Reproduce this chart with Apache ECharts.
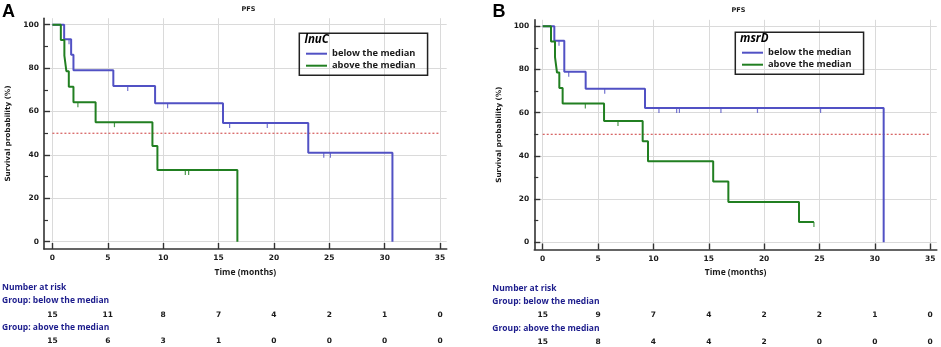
<!DOCTYPE html>
<html>
<head>
<meta charset="utf-8">
<script src="https://cdn.jsdelivr.net/npm/echarts@6/dist/echarts.min.js"></script>
<style>
html,body{margin:0;padding:0;background:#fff;}
#c{width:941px;height:347px;}
</style>
</head>
<body>
<div id="c"></div>
<script>
// ---- data ----
const xTicks = [0, 5, 10, 15, 20, 25, 30, 35];
const yTicks = [0, 20, 40, 60, 80, 100];
const yMinorTicks = [10, 30, 50, 70, 90];
const medianLevel = 50;

// Panel A (lnuC)
const aBelowT = [0, 1.06, 1.69, 1.9, 5.5, 9.27, 15.4, 23.1, 30.7];
const aBelowS = [100, 93.3, 86.2, 79.0, 71.8, 63.8, 54.7, 41.0, 0];
const aBelowCensT = [1.5, 6.8, 10.4, 16.0, 19.4, 24.5, 25.1];
const aBelowCensS = [93.3, 71.8, 63.8, 54.7, 54.7, 41.0, 41.0];
const aAboveT = [0, 0.76, 1.08, 1.26, 1.48, 1.9, 3.9, 9.03, 9.48, 16.7];
const aAboveS = [100, 92.9, 85.7, 78.6, 71.4, 64.3, 55.1, 44.1, 33.1, 0];
const aAboveCensT = [2.3, 5.6, 12.0, 12.3];
const aAboveCensS = [64.3, 55.1, 33.1, 33.1];
const aRiskBelow = [15, 11, 8, 7, 4, 2, 1, 0];
const aRiskAbove = [15, 6, 3, 1, 0, 0, 0, 0];

// Panel B (msrD)
const bBelowT = [0, 1.05, 1.95, 3.88, 9.24, 30.8];
const bBelowS = [100, 93.3, 79.0, 71.1, 62.2, 0];
const bBelowCensT = [1.47, 2.35, 5.6, 10.5, 12.1, 12.35, 16.1, 19.4, 25.1];
const bBelowCensS = [93.3, 79.0, 71.1, 62.2, 62.2, 62.2, 62.2, 62.2, 62.2];
const bAboveT = [0, 0.75, 1.11, 1.29, 1.5, 1.8, 5.54, 9.03, 9.51, 15.4, 16.77, 23.15, 24.5];
const bAboveS = [100, 92.9, 85.7, 78.6, 71.4, 64.3, 56.2, 46.8, 37.5, 28.1, 18.7, 9.4, 9.4];
const bAboveCensT = [3.85, 6.8, 24.5];
const bAboveCensS = [64.3, 56.2, 9.4];
const bRiskBelow = [15, 9, 7, 4, 2, 2, 1, 0];
const bRiskAbove = [15, 8, 4, 4, 2, 0, 0, 0];

const groupNames = ['below the median', 'above the median'];

// ---- styles ----
const BLUE = '#5151c4';
const GREEN = '#217f21';
const RED = '#cc3a3a';
const NAVY = '#1c1c8c';
const TXT = '#1a1a1a';
const XMIN = -0.76, XMAX = 35.6, YMIN = -3.35, YMAX = 103;
const tickFont = {fontFamily: 'DejaVu Sans', fontWeight: 'bold', fontSize: 7.5, color: TXT};
const headFont = {fontFamily: 'Open Sans', fontWeight: 'bold', fontSize: 8.5, color: NAVY, lineHeight: 12};

const zip = (a, b) => a.map((v, i) => [v, b[i]]);

const grids = [
  {left: 44, top: 18.2, width: 402.7, height: 230.8},
  {left: 534.3, top: 19.8, width: 402.5, height: 229.7}
];

function panelAxes(gi, riskBelow, riskAbove) {
  const main = {
    type: 'value', gridIndex: gi, position: 'bottom', min: XMIN, max: XMAX,
    name: 'Time (months)', nameLocation: 'middle', nameGap: 19,
    nameTextStyle: {fontFamily: 'Open Sans', fontWeight: 'bold', fontSize: 8.5, color: TXT},
    axisLine: {show: true, onZero: false, lineStyle: {color: '#333', width: 1.6}},
    axisTick: {show: true, inside: true, length: 6, customValues: xTicks, lineStyle: {color: '#333', width: 1.4}},
    axisLabel: Object.assign({show: true, margin: 5.5, customValues: xTicks}, tickFont),
    splitLine: {show: true, lineStyle: {color: '#dadada', width: 1}}
  };
  const risk = (arr, off) => ({
    type: 'value', gridIndex: gi, position: 'bottom', offset: off, min: XMIN, max: XMAX,
    axisLine: {show: false, onZero: false}, axisTick: {show: false}, splitLine: {show: false},
    axisLabel: Object.assign({show: true, margin: 0, customValues: xTicks,
      formatter: v => String(arr[Math.round(v / 5)])}, tickFont)
  });
  return [main, risk(riskBelow, 62), risk(riskAbove, 88.5)];
}
function panelYAxes(gi) {
  return [
    {
      type: 'value', gridIndex: gi, position: 'left', min: YMIN, max: YMAX,
      name: 'Survival probability (%)', nameLocation: 'middle', nameGap: 32,
      nameTextStyle: {fontFamily: 'DejaVu Sans', fontWeight: 'bold', fontSize: 7.2, color: TXT},
      axisLine: {show: true, onZero: false, lineStyle: {color: '#333', width: 1.6}},
      axisTick: {show: true, inside: true, length: 6, customValues: yTicks, lineStyle: {color: '#333', width: 1.4}},
      axisLabel: Object.assign({show: true, margin: 5, customValues: yTicks}, tickFont),
      splitLine: {show: true, lineStyle: {color: '#dadada', width: 1}}
    },
    {
      type: 'value', gridIndex: gi, position: 'left', min: YMIN, max: YMAX,
      axisLine: {show: false, onZero: false},
      axisTick: {show: true, inside: true, length: 4, customValues: yMinorTicks, lineStyle: {color: '#333', width: 1.2}},
      axisLabel: {show: false, customValues: yMinorTicks},
      splitLine: {show: false}
    }
  ];
}

function panelSeries(xi, yi, bT, bS, bcT, bcS, aT, aS, acT, acS) {
  const line = (name, data, color) => ({
    name, type: 'line', step: 'end', xAxisIndex: xi, yAxisIndex: yi, data,
    symbol: 'none', lineStyle: {color, width: 2}, itemStyle: {color}, z: 5, silent: true
  });
  const cens = (name, data, color) => ({
    name, type: 'scatter', xAxisIndex: xi, yAxisIndex: yi, data,
    symbol: 'rect', symbolSize: [1.2, 5], symbolOffset: [0, 2.5],
    itemStyle: {color}, z: 4, silent: true
  });
  return [
    {name: 'median', type: 'line', xAxisIndex: xi, yAxisIndex: yi,
     data: [[0, medianLevel], [35, medianLevel]], symbol: 'none',
     lineStyle: {color: RED, width: 1, type: [2, 2]}, z: 3, silent: true},
    line(groupNames[0], zip(bT, bS), BLUE),
    line(groupNames[1], zip(aT, aS), GREEN),
    cens('cens-below', zip(bcT, bcS), BLUE),
    cens('cens-above', zip(acT, acS), GREEN)
  ];
}

const legendBase = {
  orient: 'vertical', icon: 'rect', itemWidth: 21, itemHeight: 2, itemGap: 0, itemTextGap: 7,
  borderColor: '#222', borderWidth: 1.5, padding: [14.4, 12, 3.6, 6.7], selectedMode: false,
  textStyle: {fontFamily: 'Open Sans', fontWeight: 'bold', fontSize: 9.3, color: TXT, lineHeight: 12},
  data: groupNames
};

const t = (text, left, top, style) => ({text, left, top, padding: 0, textStyle: style});
const labelStyle = {fontFamily: 'Liberation Sans', fontWeight: 'bold', fontSize: 18, color: '#000'};
const pfsStyle = {fontFamily: 'DejaVu Sans', fontWeight: 'bold', fontSize: 6.5, color: TXT};
const geneStyle = {fontFamily: 'Open Sans', fontWeight: 'bold', fontStyle: 'italic', fontSize: 11.5, color: '#000'};

const option = {
  animation: false,
  backgroundColor: '#fff',
  title: [
    t('A', 2, 3, labelStyle),
    t('B', 492.5, 3, labelStyle),
    t('PFS', 241.5, 6, pfsStyle),
    t('PFS', 731.5, 7, pfsStyle),
    t('lnuC', 304.5, 34, geneStyle),
    t('msrD', 740, 33, geneStyle),
    t('Number at risk', 2, 281.7, headFont),
    t('Group: below the median', 2, 294.7, headFont),
    t('Group: above the median', 2, 321.3, headFont),
    t('Number at risk', 492.3, 282.7, headFont),
    t('Group: below the median', 492.3, 295.7, headFont),
    t('Group: above the median', 492.3, 322.3, headFont)
  ],
  legend: [
    Object.assign({left: 299.3, top: 33.3}, legendBase),
    Object.assign({left: 735.3, top: 32.3}, legendBase)
  ],
  grid: grids,
  xAxis: [].concat(panelAxes(0, aRiskBelow, aRiskAbove), panelAxes(1, bRiskBelow, bRiskAbove)),
  yAxis: [].concat(panelYAxes(0), panelYAxes(1)),
  series: [].concat(
    panelSeries(0, 0, aBelowT, aBelowS, aBelowCensT, aBelowCensS, aAboveT, aAboveS, aAboveCensT, aAboveCensS),
    panelSeries(3, 2, bBelowT, bBelowS, bBelowCensT, bBelowCensS, bAboveT, bAboveS, bAboveCensT, bAboveCensS)
  )
};

const chart = echarts.init(document.getElementById('c'), null, {renderer: 'canvas'});
chart.setOption(option);
</script>
</body>
</html>
